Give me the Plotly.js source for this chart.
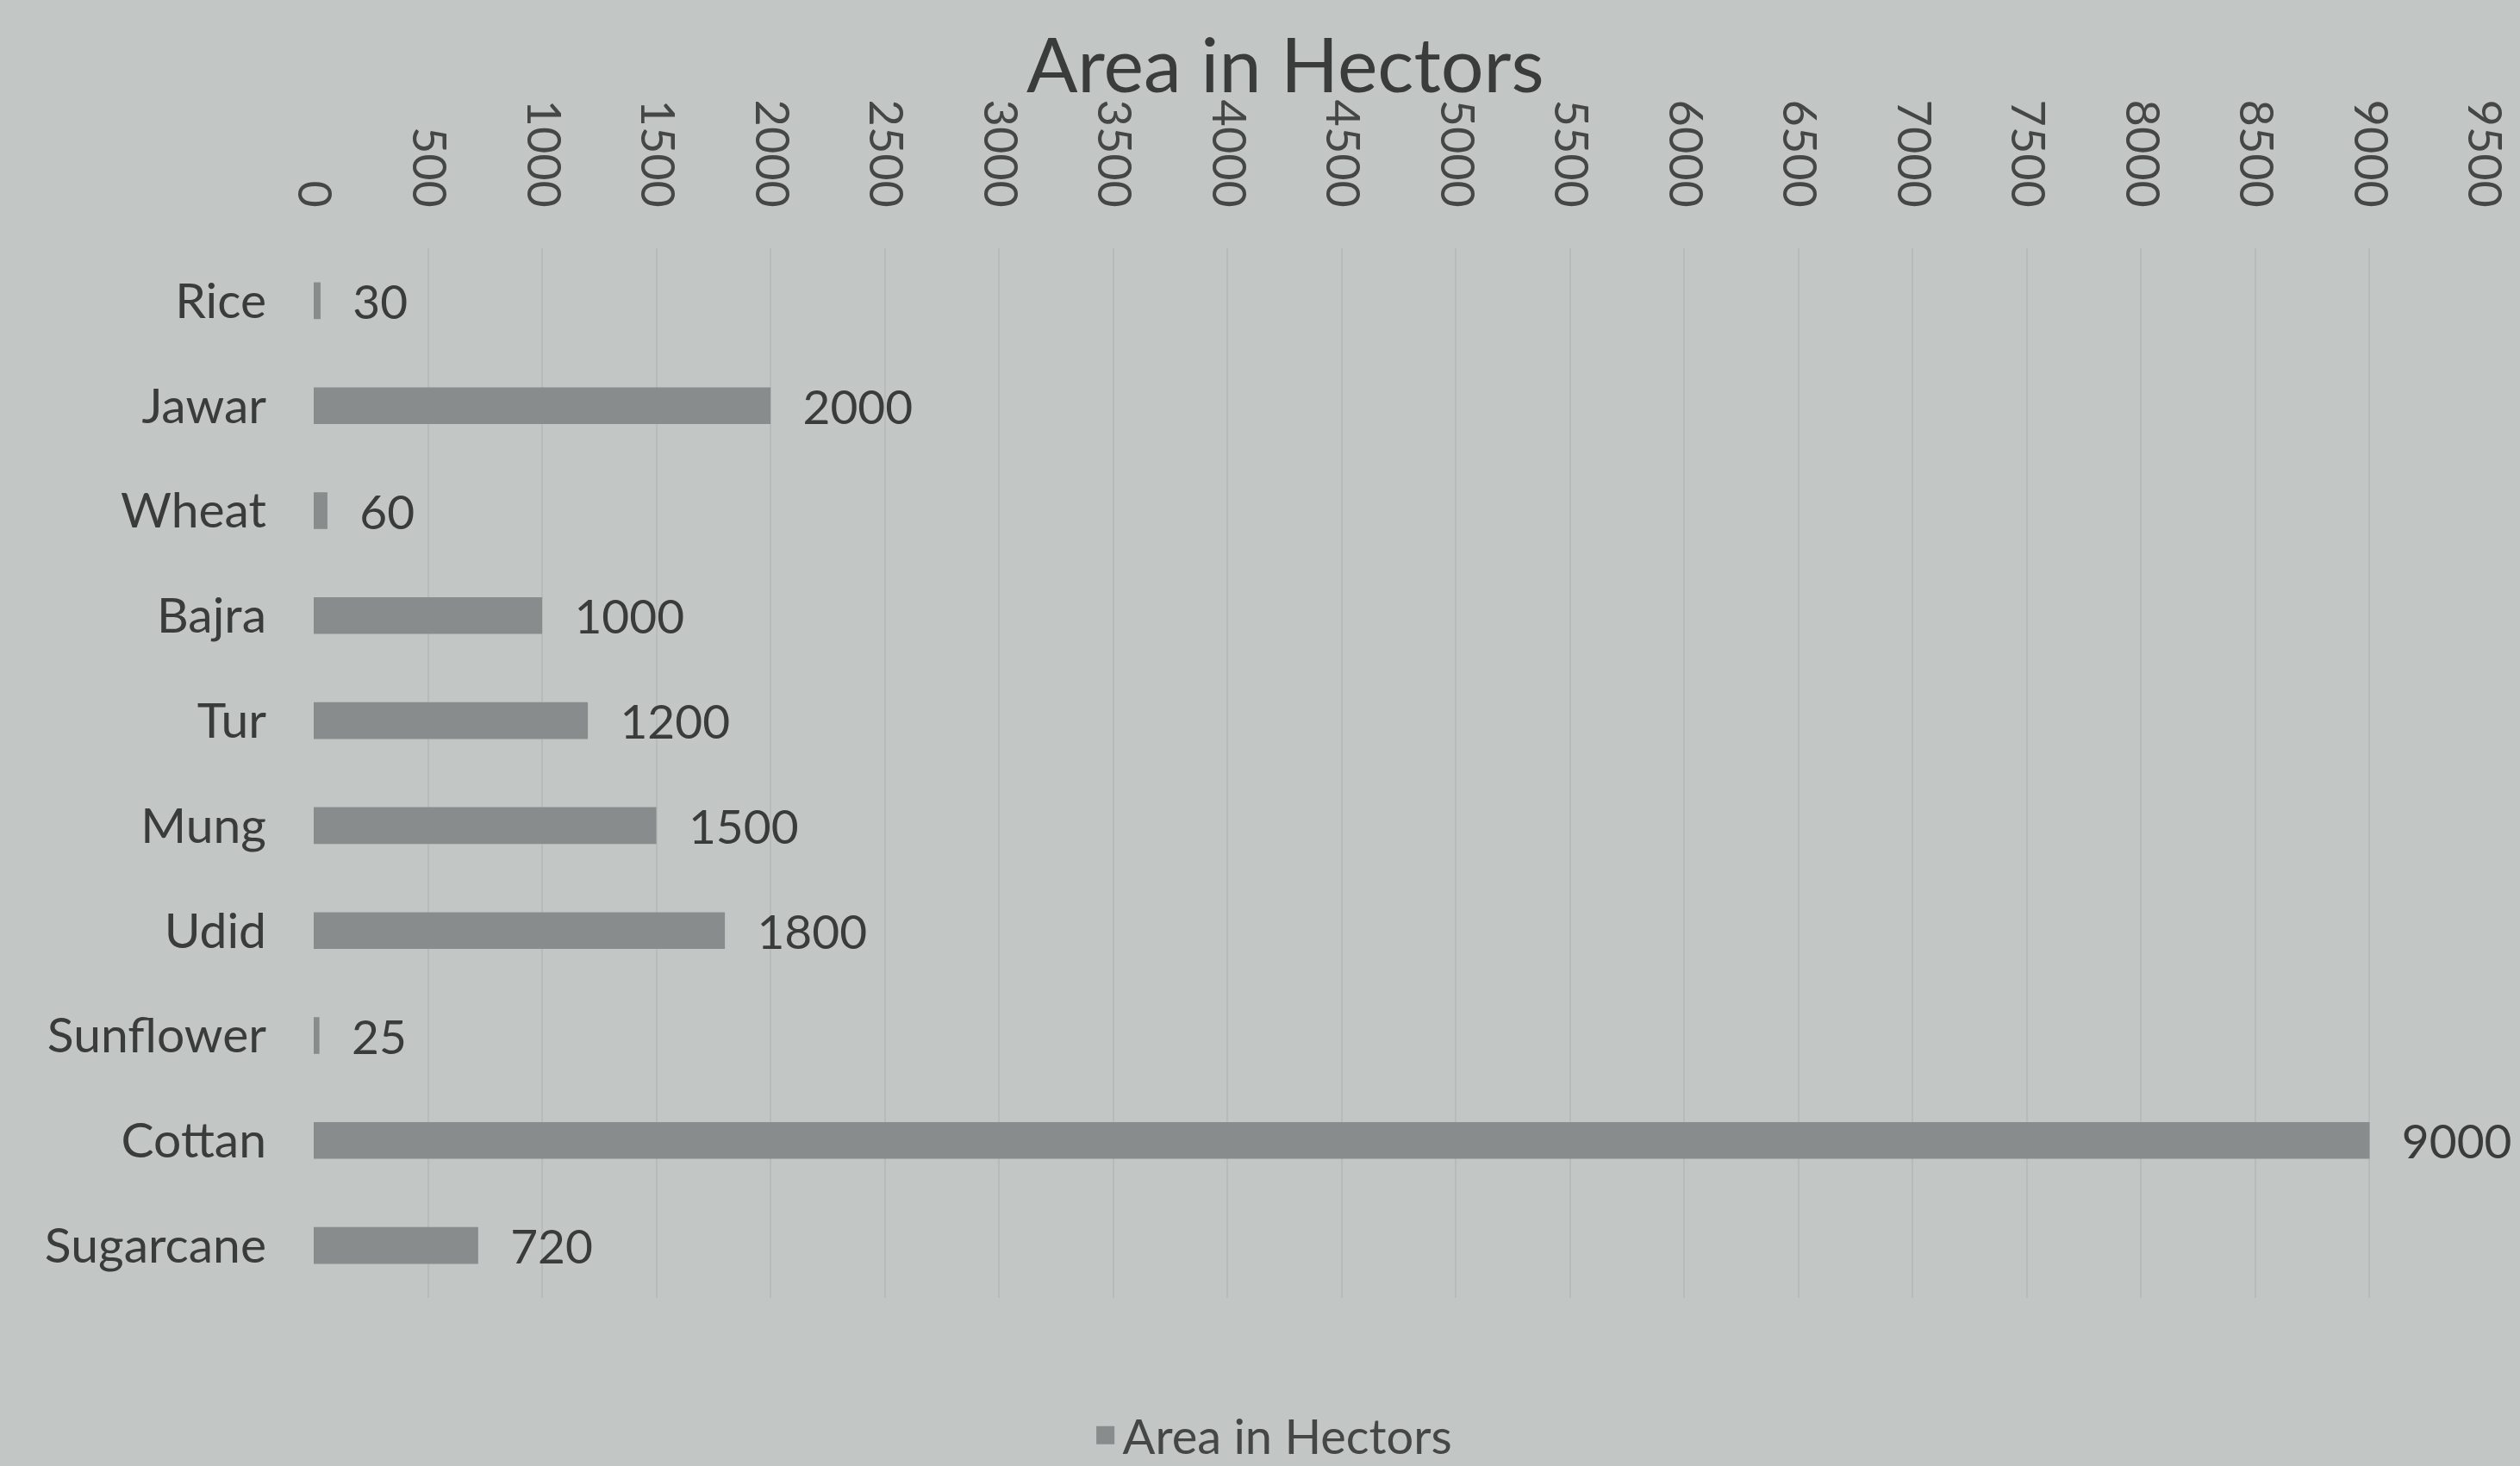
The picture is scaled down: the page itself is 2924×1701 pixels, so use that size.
<!DOCTYPE html>
<html>
<head>
<meta charset="utf-8">
<script src="https://cdn.plot.ly/plotly-3.0.1.min.js"></script>
<style>html,body{margin:0;padding:0;background:#c2c6c5;}#chart{width:2924px;height:1701px;}</style>
</head>
<body>
<div id="chart"></div>
<script>
const crops = ["Rice","Jawar","Wheat","Bajra","Tur","Mung","Udid","Sunflower","Cottan","Sugarcane"];
const areaHectors = [30, 2000, 60, 1000, 1200, 1500, 1800, 25, 9000, 720];
const seriesName = "Area in Hectors";
const xTicks = [0,500,1000,1500,2000,2500,3000,3500,4000,4500,5000,5500,6000,6500,7000,7500,8000,8500,9000,9500];

const txt = '#3a3c3c';
const barColor = '#898c8c';
const trace = {
  type: 'bar',
  orientation: 'h',
  y: crops,
  x: areaHectors,
  name: seriesName,
  showlegend: false,
  marker: {color: barColor},
  text: areaHectors.map(v => '\u2002\u2009' + v),
  textposition: 'outside',
  constraintext: 'none',
  cliponaxis: false,
  textfont: {family: 'Lato, sans-serif', size: 55, color: txt},
  hoverinfo: 'none'
};
// legend entry only (larger square swatch, like the reference)
const legendEntry = {
  type: 'scatter',
  mode: 'markers',
  x: [null], y: [null],
  name: seriesName,
  marker: {symbol: 'square', size: 24, color: barColor, line: {color: barColor, width: 5}},
  hoverinfo: 'none'
};

const layout = {
  width: 2924, height: 1701,
  paper_bgcolor: '#c2c6c5',
  plot_bgcolor: '#c2c6c5',
  margin: {l: 364, r: 42, t: 288, b: 195},
  bargap: 0.65,
  showlegend: true,
  title: {
    text: 'Area in Hectors',
    font: {family: 'Lato, sans-serif', size: 88, color: txt},
    x: 0.51, xanchor: 'center', xref: 'container',
    y: 0.955, yanchor: 'middle', yref: 'container'
  },
  xaxis: {
    side: 'top',
    range: [0, 9500],
    tickmode: 'array',
    tickvals: xTicks,
    ticktext: xTicks.map(String),
    tickangle: 90,
    ticklabelstandoff: 38,
    tickfont: {family: 'Lato, sans-serif', size: 54, color: '#454747'},
    showgrid: true,
    gridcolor: '#b7bbba',
    gridwidth: 2,
    zeroline: false,
    showline: false,
    ticks: ''
  },
  yaxis: {
    type: 'category',
    autorange: 'reversed',
    tickfont: {family: 'Lato, sans-serif', size: 57, color: txt},
    ticklabelstandoff: 54,
    showgrid: false,
    zeroline: false,
    showline: false,
    ticks: ''
  },
  legend: {
    orientation: 'h',
    x: 0.505, xanchor: 'center', xref: 'container',
    y: 0.021, yanchor: 'middle', yref: 'container',
    font: {family: 'Lato, sans-serif', size: 56, color: '#454747'},
    bgcolor: 'rgba(0,0,0,0)',
    itemwidth: 30
  }
};

Plotly.newPlot('chart', [trace, legendEntry], layout, {displayModeBar: false, staticPlot: true});
</script>
</body>
</html>
